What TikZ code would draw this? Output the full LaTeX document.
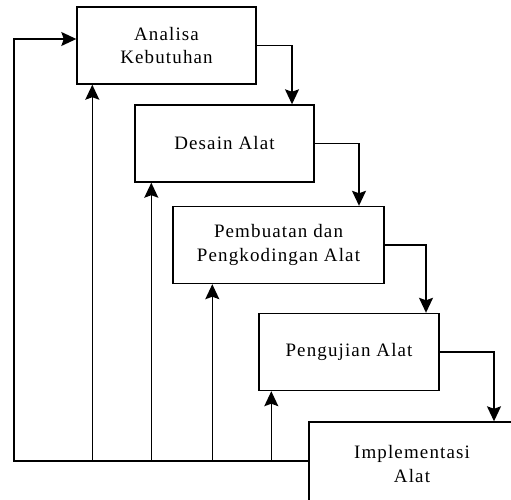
\documentclass[tikz,border=0pt]{standalone}
\usepackage{fontspec}
\setmainfont[LetterSpace=6]{Liberation Serif}
\usetikzlibrary{arrows.meta}
\begin{document}
\begin{tikzpicture}[
  stagebox/.style={draw,line width=0.8pt,minimum width=#1,minimum height=1.54cm,align=center,inner sep=0pt,font=\fontsize{10.8}{13.4}\selectfont},
  flow/.style={line width=0.75pt,-{Stealth[length=3mm,width=2.8mm,inset=0.5mm]}}]
\useasboundingbox (0,0) rectangle (10.22,9.98);
\clip (0,0) rectangle (10.22,9.98);
\node[stagebox=3.58cm] (analisa) at (3.33,9.07) {Analisa\\Kebutuhan};
\node[stagebox=3.58cm] (desain) at (4.49,7.11) {Desain Alat};
\node[stagebox=4.22cm] (pembuatan) at (5.57,5.08) {Pembuatan dan\\Pengkodingan Alat};
\node[stagebox=3.6cm] (pengujian) at (6.98,2.94) {Pengujian Alat};
\node[stagebox=4.12cm,minimum height=1.68cm] (implementasi) at (8.24,0.70) {Implementasi\\Alat};
% forward steps
\draw[flow] (analisa.east) -| ([xshift=1.35cm]desain.north);
\draw[flow] (desain.east) -| ([xshift=1.61cm]pembuatan.north);
\draw[flow] (pembuatan.east) -| ([xshift=1.54cm]pengujian.north);
\draw[flow] (pengujian.east) -| ([xshift=1.64cm]implementasi.north);
% feedback lines
\coordinate (bus) at ([yshift=0.06cm]implementasi.west);
\coordinate (corner) at (0.28,0.76);
\draw[flow] (bus) -- (corner) |- ([yshift=0.13cm]analisa.west);
\draw[flow] ([xshift=0.32cm]analisa.south west |- bus) -- ([xshift=0.32cm]analisa.south west);
\draw[flow] ([xshift=0.34cm]desain.south west |- bus) -- ([xshift=0.34cm]desain.south west);
\draw[flow] ([xshift=0.8cm]pembuatan.south west |- bus) -- ([xshift=0.8cm]pembuatan.south west);
\draw[flow] ([xshift=0.26cm]pengujian.south west |- bus) -- ([xshift=0.26cm]pengujian.south west);
\end{tikzpicture}
\end{document}
